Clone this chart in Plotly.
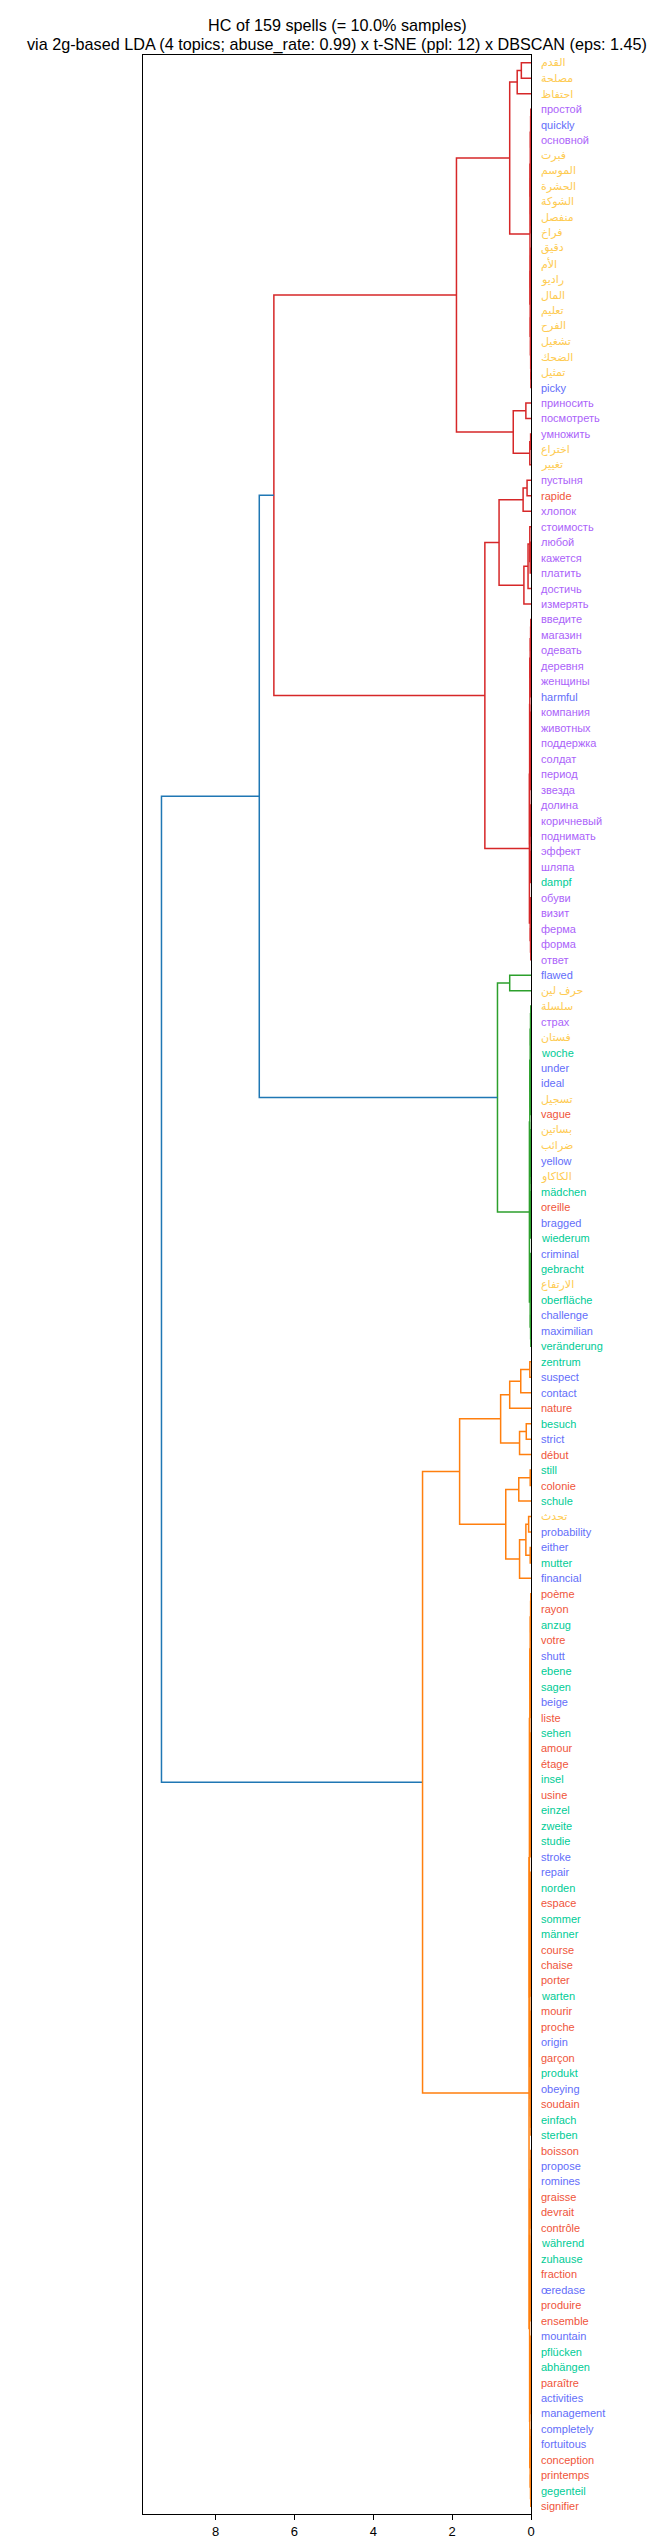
import plotly.graph_objects as go

# ---------------- data ----------------
labels = [
    "القدم", "مصلحة", "احتفاظ", "простой", "quickly", "основной", "فبرت", "الموسم",
    "الحشرة", "الشوكة", "منفصل", "فراخ", "دقيق", "الأم", "راديو", "المال",
    "تعليم", "الفرح", "تشغيل", "الضحك", "تمثيل", "picky", "приносить", "посмотреть",
    "умножить", "اختراع", "تغيير", "пустыня", "rapide", "хлопок", "стоимость", "любой",
    "кажется", "платить", "достичь", "измерять", "введите", "магазин", "одевать", "деревня",
    "женщины", "harmful", "компания", "животных", "поддержка", "солдат", "период", "звезда",
    "долина", "коричневый", "поднимать", "эффект", "шляпа", "dampf", "обуви", "визит",
    "ферма", "форма", "ответ", "flawed", "حرف لين", "سلسلة", "страх", "فستان",
    "woche", "under", "ideal", "تسجيل", "vague", "بساتين", "ضرائب", "yellow",
    "الكاكاو", "mädchen", "oreille", "bragged", "wiederum", "criminal", "gebracht", "الارتفاع",
    "oberfläche", "challenge", "maximilian", "veränderung", "zentrum", "suspect", "contact", "nature",
    "besuch", "strict", "début", "still", "colonie", "schule", "تحدث", "probability",
    "either", "mutter", "financial", "poème", "rayon", "anzug", "votre", "shutt",
    "ebene", "sagen", "beige", "liste", "sehen", "amour", "étage", "insel",
    "usine", "einzel", "zweite", "studie", "stroke", "repair", "norden", "espace",
    "sommer", "männer", "course", "chaise", "porter", "warten", "mourir", "proche",
    "origin", "garçon", "produkt", "obeying", "soudain", "einfach", "sterben", "boisson",
    "propose", "romines", "graisse", "devrait", "contrôle", "während", "zuhause", "fraction",
    "œredase", "produire", "ensemble", "mountain", "pflücken", "abhängen", "paraître", "activities",
    "management", "completely", "fortuitous", "conception", "printemps", "gegenteil", "signifier",
]

langs = (
    "ar ar ar ru en ru ar ar "
    "ar ar ar ar ar ar ar ar "
    "ar ar ar ar ar en ru ru "
    "ru ar ar ru fr ru ru ru "
    "ru ru ru ru ru ru ru ru "
    "ru en ru ru ru ru ru ru "
    "ru ru ru ru ru de ru ru "
    "ru ru ru en ar ar ru ar "
    "de en en ar fr ar ar en "
    "ar de fr en de en de ar "
    "de en en de de en en fr "
    "de en fr de fr de ar en "
    "en de en fr fr de fr en "
    "de de en fr de fr fr de "
    "fr de de de en en de fr "
    "de de fr fr fr de fr fr "
    "en fr de en fr de de fr "
    "en en fr fr fr de de fr "
    "en fr fr en de de fr en "
    "en en en fr fr de fr"
).split()

lang_colors = {"en": "#636EFA", "fr": "#EF553B", "de": "#00CC96", "ru": "#AB63FA", "ar": "#FECB52"}

# merge tree: [height, upper child, lower child]; ints are leaf indices (top to bottom)
red_top3 = [0.35, [0.245, 0, 1], 2]
red_tiny = [0.025,
            [0.018, [0.01, [0.005, 3, 4], [0.006, 5, 6]], [0.012, [0.004, 7, 8], [0.007, 9, [0.003, 10, 11]]]],
            [0.02, [0.011, [0.005, 12, 13], [0.006, 14, 15]],
             [0.015, [0.005, 16, 17], [0.008, 18, [0.004, 19, [0.002, 20, 21]]]]]]
red_mid = [0.45, [0.13, 22, 23], [0.03, [0.01, 24, 25], 26]]
red_top = [1.89, [0.54, red_top3, red_tiny], red_mid]
red_b1 = [0.81, [0.2, [0.1, 27, 28], 29],
          [0.18, [0.075, [0.03, 30, [0.02, [0.01, 31, 32], 33]], 34], 35]]
red_x1 = [0.02, [0.01, [0.005, 36, 37], 38], [0.01, 39, [0.005, 40, 41]]]
red_x2 = [0.02, [0.01, 42, [0.005, 43, 44]], [0.012, [0.004, 45, 46], 47]]
red_x3 = [0.025, [0.01, [0.005, 48, 49], 50], [0.015, 51, [0.006, 52, 53]]]
red_x4 = [0.02, [0.01, 54, 55], [0.012, 56, [0.005, 57, 58]]]
red_tiny2 = [0.04, [0.035, [0.03, red_x1, red_x2], red_x3], red_x4]
red = [6.52, red_top, [1.17, red_b1, red_tiny2]]

green_y1 = [0.02, [0.012, [0.005, 61, 62], [0.006, 63, 64]], [0.015, [0.004, 65, 66], [0.008, 67, 68]]]
green_y2 = [0.025, [0.01, [0.004, 69, 70], [0.007, 71, 72]], [0.015, [0.006, 73, 74], [0.005, 75, 76]]]
green_y3 = [0.02, [0.012, [0.005, 77, 78], [0.006, 79, 80]], [0.01, 81, [0.004, 82, 83]]]
green = [0.85, [0.54, 59, 60], [0.04, [0.03, green_y1, green_y2], green_y3]]

orange_a = [0.77, [0.54, [0.26, [0.03, 84, 85], 86], 87], [0.29, [0.12, 88, 89], 90]]
orange_b = [0.64, [0.31, [0.02, 91, 92], 93], [0.29, [0.13, [0.06, 94, 95], [0.02, 96, 97]], 98]]
orange_z1 = [0.03,
             [0.02, [0.01, [0.005, 99, 100], [0.006, 101, 102]], [0.012, [0.004, 103, 104], [0.008, 105, [0.003, 106, 107]]]],
             [0.022, [0.01, [0.005, 108, 109], [0.007, 110, 111]], [0.015, [0.006, 112, 113], [0.009, 114, [0.004, 115, 116]]]]]
orange_z2 = [0.028,
             [0.018, [0.01, [0.004, 117, 118], [0.006, 119, 120]], [0.013, [0.005, 121, 122], [0.007, 123, [0.003, 124, 125]]]],
             [0.02, [0.011, [0.005, 126, 127], [0.006, 128, 129]], [0.014, [0.004, 130, 131], [0.008, 132, [0.003, 133, 134]]]]]
orange_z3 = [0.035,
             [0.025, [0.015, [0.008, [0.004, 135, 136], 137], [0.007, 138, [0.003, 139, 140]]],
              [0.016, [0.006, [0.003, 141, 142], 143], [0.009, 144, [0.004, 145, 146]]]],
             [0.03, [0.018, [0.008, [0.004, 147, 148], 149], [0.01, 150, [0.005, 151, 152]]],
              [0.02, [0.007, [0.003, 153, 154], 155], [0.012, 156, [0.005, 157, 158]]]]]
orange = [2.75, [1.81, orange_a, orange_b], [0.05, [0.04, orange_z1, orange_z2], orange_z3]]

tree = [9.37, [6.89, red, green], orange]

title_lines = ["HC of 159 spells (= 10.0% samples)",
               "via 2g-based LDA (4 topics; abuse_rate: 0.99) x t-SNE (ppl: 12) x DBSCAN (eps: 1.45)"]
x_ticks = [0, 2, 4, 6, 8]

# ---------------- layout constants ----------------
W, H = 657, 2543
ML, MR, MT, MB = 135, 134, 47, 31
PH = H - MT - MB
FONT = "Liberation Sans, Arial, DejaVu Sans, sans-serif"
above_color = "#1f77b4"
cluster_palette = ["#ff7f0e", "#2ca02c", "#d62728", "#9467bd"]

n = len(labels)
assert len(langs) == n


def leaf_y(i):
    return 10 * (n - 1 - i) + 5


root_h = tree[0]
thr = 0.7 * root_h

# find cluster roots (ordered bottom-up like scipy)
clusters = []


def find_clusters(node):
    if isinstance(node, int):
        clusters.append(node)
        return
    if node[0] < thr:
        clusters.append(node)
        return
    find_clusters(node[1])
    find_clusters(node[2])


find_clusters(tree)


def min_y(node):
    if isinstance(node, int):
        return leaf_y(node)
    return min(min_y(node[1]), min_y(node[2]))


color_of = {}
k = 0
for c in sorted([c for c in clusters if not isinstance(c, int)], key=min_y):
    color_of[id(c)] = cluster_palette[k % len(cluster_palette)]
    k += 1

segs = {}


def walk(node, color):
    if isinstance(node, int):
        return leaf_y(node), 0.0
    h, a, b = node
    if color is None and id(node) in color_of:
        color = color_of[id(node)]
    col = color if color is not None else above_color
    ya, ha = walk(a, color)
    yb, hb = walk(b, color)
    xs, ys = segs.setdefault(col, ([], []))
    xs += [ha, h, h, hb, None]
    ys += [ya, ya, yb, yb, None]
    return (ya + yb) / 2, h


walk(tree, None)

fig = go.Figure()
for col, (xs, ys) in segs.items():
    fig.add_trace(go.Scatter(x=xs, y=ys, mode="lines", line=dict(color=col, width=1.5),
                             hoverinfo="skip", showlegend=False))

annotations = []
for i, (lab, lg) in enumerate(zip(labels, langs)):
    annotations.append(dict(x=1, xref="paper", y=leaf_y(i), yref="y", text=lab, showarrow=False,
                            xanchor="left", yanchor="middle", xshift=8,
                            font=dict(family=FONT, size=11, color=lang_colors[lg])))

title_y_px = [17, 36]
for t, ypx in zip(title_lines, title_y_px):
    annotations.append(dict(x=0.5, xref="paper", y=1 + (MT - ypx) / PH, yref="paper", text=t,
                            showarrow=False, xanchor="center", yanchor="middle",
                            font=dict(family=FONT, size=16.2, color="black")))

fig.update_layout(
    width=W, height=H,
    margin=dict(l=ML, r=MR, t=MT, b=MB, pad=0),
    paper_bgcolor="white", plot_bgcolor="white",
    annotations=annotations,
    xaxis=dict(range=[1.05 * root_h, 0], tickvals=x_ticks, ticktext=[str(v) for v in x_ticks],
               ticks="outside", ticklen=5, tickwidth=1, tickcolor="black",
               showline=True, mirror=True, linecolor="black", linewidth=1,
               showgrid=False, zeroline=False,
               tickfont=dict(family=FONT, size=13, color="black")),
    yaxis=dict(range=[0, 10 * n], showline=True, mirror=True, linecolor="black", linewidth=1,
               showgrid=False, zeroline=False, showticklabels=False, ticks=""),
)

fig.write_html("out.html")
